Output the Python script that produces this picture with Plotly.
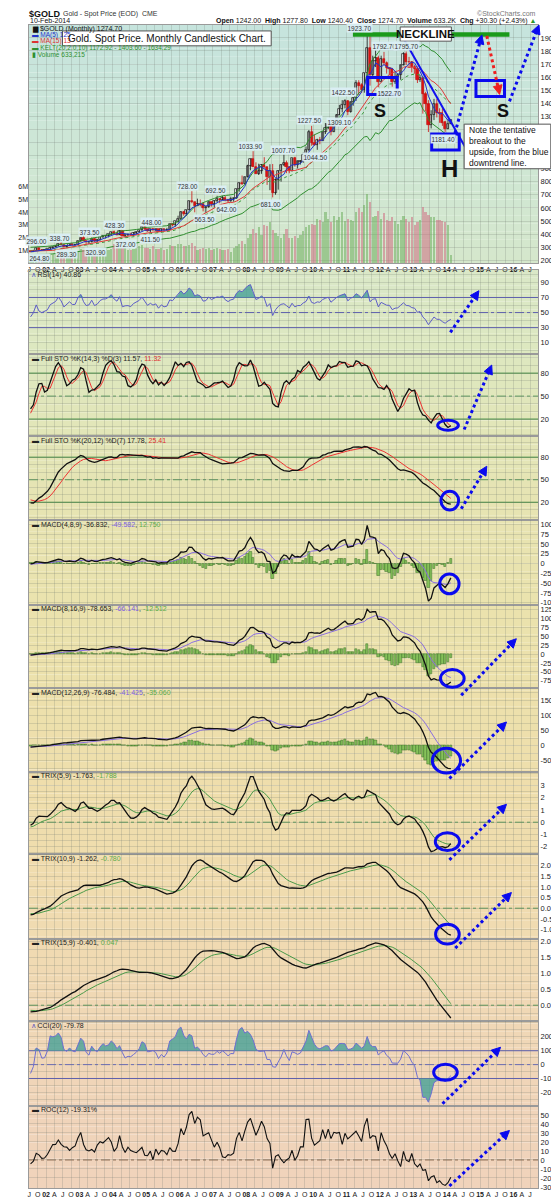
import numpy as np
import pandas as pd
import plotly.graph_objects as go

# ---------------- DATA ----------------
# warm-up months Jan-1999 .. Jun-2001 (only used to seed the indicators)
pre_open = [288, 287, 288, 280, 286, 268, 261, 255, 255, 299, 300, 292,
            288, 284, 293, 278, 275, 273, 289, 277, 277, 273, 264, 270,
            273, 266, 267, 258, 263, 267]
pre_high = [293, 291, 290, 291, 289, 270, 263, 259, 306, 338, 300, 292,
            292, 318, 296, 289, 278, 293, 291, 279, 278, 274, 272, 275,
            273, 270, 268, 264, 293, 275]
pre_low = [283, 282, 278, 278, 267, 257, 252, 251, 252, 293, 287, 276,
           281, 282, 277, 274, 270, 271, 275, 270, 268, 263, 263, 268,
           262, 255, 255, 255, 263, 265]
pre_close = [287, 288, 280, 286, 268, 261, 255, 255, 299, 300, 292, 288,
             284, 293, 278, 275, 273, 289, 277, 277, 273, 264, 270, 273,
             266, 267, 258, 263, 267, 271]

# displayed months Jul-2001 .. Feb-2014
open_ = [271, 265, 273, 293, 279, 275,
         279, 282, 297, 302, 308, 326, 318, 304, 312, 324, 317, 318,
         347, 368, 348, 336, 339, 364, 346, 354, 375, 385, 386, 397,
         416, 403, 396, 427, 388, 394, 395, 391, 409, 416, 428, 453,
         438, 422, 435, 428, 435, 418, 437, 429, 433, 473, 470, 496,
         517, 569, 556, 582, 654, 643, 614, 633, 626, 599, 604, 646,
         632, 650, 665, 663, 677, 659, 650, 666, 673, 743, 789, 783,
         834, 923, 972, 916, 863, 885, 930, 912, 833, 880, 718, 814,
         882, 928, 942, 916, 883, 980, 927, 955, 955, 1008, 1040, 1182,
         1096, 1081, 1118, 1113, 1180, 1213, 1244, 1181, 1248, 1308, 1357, 1386,
         1420, 1333, 1411, 1439, 1556, 1536, 1500, 1628, 1826, 1620, 1722, 1746,
         1563, 1737, 1710, 1668, 1664, 1560, 1604, 1615, 1691, 1773, 1719, 1712,
         1675, 1663, 1578, 1595, 1472, 1393, 1234, 1312, 1396, 1327, 1323, 1253,
         1202, 1242]
high = [272, 280, 296, 294, 285, 281,
        288, 307, 304, 311, 329, 338.7, 324, 316, 326, 326, 325, 350,
        372, 389, 352, 341, 373.5, 371, 363, 377, 391, 392, 400, 417,
        428.3, 419, 430, 428, 396, 405, 410, 416, 420, 430, 456, 457,
        438, 440, 448, 438, 436, 442, 438, 448, 477, 479, 496, 541,
        574, 577, 586, 655, 728, 645, 671, 665, 642, 612, 649, 650,
        660, 692.5, 674, 693, 692, 670, 686, 677, 745, 795, 848, 838,
        930, 976, 1033.9, 949, 938, 936, 988, 914, 934, 936, 826, 889,
        935, 1007.7, 962, 917, 980, 991, 960, 965, 1024, 1070, 1196, 1227.5,
        1162, 1129, 1143, 1181, 1249, 1265, 1245, 1250, 1317, 1388, 1424, 1431,
        1424, 1412, 1448, 1577, 1577, 1553, 1632, 1917, 1923.7, 1764, 1804, 1764,
        1764, 1792.7, 1720, 1676, 1668, 1640, 1630, 1694, 1790, 1795.7, 1755, 1723,
        1694, 1682, 1617, 1605, 1488, 1424, 1347, 1434, 1434, 1362, 1362, 1267,
        1280, 1277.8]
low = [264.8, 264, 271, 277, 271, 271,
       277, 281, 288, 299, 306, 315, 298, 299, 310, 310, 313, 317,
       342, 346, 325, 320.9, 337, 341, 340, 352, 368, 366, 375, 396,
       399, 390, 393, 385, 372, 385, 387, 385, 398, 410, 420, 430,
       418, 411.5, 424, 421, 414, 414, 418, 428, 432, 459, 457, 488,
       516, 540, 539, 582, 636, 567, 614, 612, 574, 563.5, 601, 610,
       602, 642, 637, 660, 651, 642, 647, 648, 670, 724, 775, 781,
       833, 888, 915, 861, 852, 861, 904, 776, 736, 681, 701, 740,
       801, 920, 866, 865, 879, 915, 902, 932, 946, 998, 1034, 1075,
       1075, 1044.5, 1087, 1113, 1165, 1203, 1155, 1180, 1242, 1308, 1330, 1361,
       1309.1, 1329, 1381, 1418, 1462, 1478, 1481, 1603, 1535, 1602, 1677, 1522.7,
       1562, 1690, 1627, 1613, 1527, 1548, 1564, 1580, 1689, 1693, 1673, 1636,
       1626, 1555, 1563, 1321, 1338, 1180.5, 1208, 1271, 1292, 1251, 1227, 1181.4,
       1202, 1240.4]
close = [265, 273, 293, 279, 275, 279,
         282, 297, 302, 308, 326, 318, 304, 312, 324, 317, 318, 347,
         368, 348, 336, 339, 364, 346, 354, 375, 385, 386, 397, 416,
         403, 396, 427, 388, 394, 395, 391, 409, 416, 428, 453, 438,
         422, 435, 428, 435, 418, 437, 429, 433, 473, 470, 496, 517,
         569, 556, 582, 654, 643, 614, 633, 626, 599, 604, 646, 632,
         650, 665, 663, 677, 659, 650, 666, 673, 743, 789, 783, 834,
         923, 972, 916, 863, 885, 930, 912, 833, 880, 718, 814, 882,
         928, 942, 916, 883, 980, 927, 955, 955, 1008, 1040, 1182, 1096,
         1081, 1118, 1113, 1180, 1213, 1244, 1181, 1248, 1308, 1357, 1386, 1420,
         1333, 1411, 1439, 1556, 1536, 1500, 1628, 1826, 1620, 1722, 1746, 1563,
         1737, 1710, 1668, 1664, 1560, 1604, 1615, 1691, 1773, 1719, 1712, 1675,
         1663, 1578, 1595, 1472, 1393, 1234, 1312, 1396, 1327, 1323, 1253, 1202,
         1244, 1274.7]
volume_m = [0.35, 0.4, 0.5, 0.45, 0.4, 0.4,
            0.6, 0.8, 0.7, 0.75, 0.9, 0.85, 0.8, 0.7, 0.75, 0.7, 0.7, 0.9,
            1.1, 1.0, 0.9, 0.85, 1.0, 0.95, 0.9, 1.0, 1.2, 1.1, 1.0, 1.1,
            1.5, 1.3, 1.4, 1.35, 1.2, 1.0, 1.0, 1.1, 1.2, 1.3, 1.4, 1.2,
            1.2, 1.1, 1.3, 1.1, 1.1, 1.2, 1.0, 1.1, 1.4, 1.3, 1.3, 1.5,
            1.5, 1.3, 1.3, 1.4, 1.6, 1.3, 1.0, 1.1, 1.2, 1.1, 1.2, 1.0,
            1.1, 1.2, 1.1, 1.0, 1.0, 1.1, 0.9, 1.2, 1.3, 1.5, 1.7, 1.5,
            2.0, 2.3, 2.7, 2.4, 2.8, 2.2, 3.0, 2.9, 3.2, 2.6, 2.4, 2.1,
            2.0, 2.3, 2.7, 2.0, 2.0, 2.1, 2.0, 2.2, 2.5, 2.8, 3.0, 3.1,
            3.0, 3.5, 3.4, 3.2, 4.0, 3.5, 3.2, 3.7, 3.4, 3.6, 4.0, 3.3,
            3.5, 3.4, 3.3, 4.0, 4.3, 4.0, 4.6, 5.4, 4.8, 3.6, 3.7, 4.1,
            3.5, 3.9, 3.4, 3.3, 3.6, 3.3, 3.1, 3.4, 3.7, 3.5, 3.2, 3.6,
            3.0, 3.2, 3.4, 4.4, 4.0, 3.8, 3.6, 3.6, 3.4, 3.4, 3.3, 3.2,
            3.0, 0.63]

# price extreme labels shown on the chart (text, x px, y px)
price_labels = [("296.00", 27, 235), ("264.80", 30, 252.5), ("338.70", 50, 231.5),
                ("289.30", 57, 248), ("373.50", 80, 226), ("320.90", 87, 245.5),
                ("428.30", 106, 218.5), ("372.00", 117, 238), ("448.00", 143, 216),
                ("411.50", 142, 233), ("728.00", 180, 179), ("692.50", 208, 183),
                ("642.00", 220, 203), ("563.50", 197, 213), ("1033.90", 244, 139),
                ("681.00", 264, 198), ("1007.70", 277, 143), ("1227.50", 304, 113),
                ("1044.50", 310, 150), ("1309.10", 334, 115), ("1422.50", 338, 85),
                ("1923.70", 355, 20.5), ("1792.70", 380, 38.3), ("1795.70", 402, 38.3),
                ("1522.70", 385, 85.7), ("1181.40", 439, 132)]

# ---------------- INDICATORS (derived from the OHLC arrays) ----------------
O = np.array(pre_open + open_, float)
Hh = np.array(pre_high + high, float)
Ll = np.array(pre_low + low, float)
C = np.array(pre_close + close, float)
NP = len(pre_close)


def ema(x, n):
    a = 2.0 / (n + 1)
    out = np.empty(len(x))
    out[0] = x[0]
    for i in range(1, len(x)):
        out[i] = out[i - 1] + a * (x[i] - out[i - 1])
    return out


def wild(x, n):
    out = np.empty(len(x))
    out[0] = x[0]
    for i in range(1, len(x)):
        out[i] = out[i - 1] + (x[i] - out[i - 1]) / n
    return out


def sma(x, n):
    return pd.Series(x).rolling(n, min_periods=1).mean().to_numpy()


prevC = np.r_[C[0], C[:-1]]
ma5 = sma(C, 5)
ma15 = sma(C, 15)
tr = np.maximum(Hh - Ll, np.maximum(abs(Hh - prevC), abs(Ll - prevC)))
atr = wild(tr, 10)
kmid = ema(C, 20)
kup = kmid + 2 * atr
klo = kmid - 2 * atr

d = C - prevC
au = wild(np.clip(d, 0, None), 14)
ad = wild(np.clip(-d, 0, None), 14)
rsi = 100 - 100 / (1 + au / np.where(ad == 0, 1e-9, ad))


def full_sto(n, ks, ds):
    ll = pd.Series(Ll).rolling(n, min_periods=1).min().to_numpy()
    hh = pd.Series(Hh).rolling(n, min_periods=1).max().to_numpy()
    fk = 100 * (C - ll) / np.where(hh - ll == 0, 1, hh - ll)
    k = sma(fk, ks)
    return k, sma(k, ds)


sto1k, sto1d = full_sto(14, 3, 3)
sto2k, sto2d = full_sto(20, 12, 7)


def macd(a, b, s):
    m = ema(C, a) - ema(C, b)
    sg = ema(m, s)
    return m, sg, m - sg


m1, s1, h1 = macd(4, 8, 9)
m2, s2, h2 = macd(8, 16, 9)
m3, s3, h3 = macd(12, 26, 9)


def trix(n, s):
    e3 = ema(ema(ema(C, n), n), n)
    t = np.r_[0, 100 * (e3[1:] / e3[:-1] - 1)]
    return t, ema(t, s)


t1, ts1 = trix(5, 9)
t2, ts2 = trix(10, 9)
t3, ts3 = trix(15, 9)

tp = (Hh + Ll + C) / 3
tps = pd.Series(tp)
tsma = tps.rolling(20, min_periods=1).mean().to_numpy()
mdev = tps.rolling(20, min_periods=1).apply(lambda w: np.mean(np.abs(w - w.mean())), raw=True).to_numpy()
cci = (tp - tsma) / (0.015 * np.where(mdev == 0, 1, mdev))
roc = np.r_[np.zeros(12), 100 * (C[12:] / C[:-12] - 1)]

S = slice(NP, None)
dates = pd.date_range("2001-07-01", periods=len(close), freq="MS") + pd.Timedelta(days=14)
N = len(close)

# ---------------- GEOMETRY ----------------
W, Hpx = 559, 1200
ML, MR, MT, MB = 19, 23, 17, 10
PW, PH = W - ML - MR, Hpx - MT - MB


def px(x):
    return (x - ML) / PW


def py(y):
    return (Hpx - MB - y) / PH


FONT = "Liberation Sans"
GRID = "rgba(110,120,110,0.22)"
BORDER = "#9a9a9a"
XS, XE = "2001-06-28", "2016-09-26"

hidden_main = {1000, 1100, 1200}
panels = [
    (17, 257, [179.5, 1998.5], list(range(200, 2000, 100)),
     [v for v in range(200, 2000, 100) if v not in hidden_main]),
    (264, 349, [-5.2, 106.6], list(range(0, 101, 10)), [10, 30, 50, 70, 90]),
    (349, 432, [-2.7, 104.8], list(range(0, 101, 10)), [20, 50, 80]),
    (432, 516, [-3.3, 107.6], list(range(0, 101, 10)), [20, 50, 80]),
    (516, 602, [-106, 112], list(range(-100, 101, 25)), list(range(-100, 101, 25))),
    (602, 686, [-96.5, 138], list(range(-75, 126, 25)), list(range(-75, 126, 25))),
    (686, 770, [-86, 190.5], list(range(-75, 176, 25)), [-50, 0, 50, 100, 150]),
    (770, 853, [-2.6, 4.16], [v / 2 for v in range(-5, 9)], [-2, -1, 0, 1, 2, 3]),
    (853, 939, [-1.45, 2.55], [v / 2 for v in range(-2, 6)], [-1, -0.5, 0, 0.5, 1, 1.5, 2]),
    (939, 1022, [-0.51, 2.08], [v / 4 for v in range(-2, 9)], [0, 0.5, 1, 1.5, 2]),
    (1022, 1107, [-296, 311], list(range(-250, 301, 50)), [-200, -100, 0, 100, 200]),
    (1107, 1190, [-31.1, 60.2], list(range(-30, 61, 10)), list(range(-30, 51, 10))),
]
fmt1 = {9, 10}

qt = pd.date_range("2001-07-01", "2016-07-01", freq="QS-JAN")
qtext = []
for q in qt:
    if q.month == 1:
        qtext.append("<b>%02d</b>" % (q.year % 100))
    else:
        qtext.append({4: "A", 7: "J", 10: "O"}[q.month])

layout = dict(width=W, height=Hpx, margin=dict(l=ML, r=MR, t=MT, b=MB),
              paper_bgcolor="white", plot_bgcolor="rgba(0,0,0,0)",
              showlegend=False, hovermode=False, bargap=0,
              font=dict(family=FONT, size=8, color="#222"))

for i, (top, bot, rng, grid, lab) in enumerate(panels):
    k = i + 1
    xn = "xaxis" if k == 1 else "xaxis%d" % k
    yn = "yaxis" if k == 1 else "yaxis%d" % k
    xr = "x" if k == 1 else "x%d" % k
    yr = "y" if k == 1 else "y%d" % k
    layout[xn] = dict(domain=[0, 1], anchor=yr, type="date", range=[XS, XE],
                      tickmode="array", tickvals=[q.strftime("%Y-%m-%d") for q in qt],
                      ticktext=qtext, showticklabels=(k in (1, 12)), ticks="", tickangle=0,
                      showgrid=True, gridcolor=GRID, gridwidth=1, zeroline=False,
                      showline=True, mirror=True, linecolor=BORDER, linewidth=1,
                      tickfont=dict(size=7, color="#222", family=FONT),
                      rangeslider=dict(visible=False), fixedrange=True)
    if k in fmt1:
        tt = [("%.1f" % v) if v in lab else "" for v in grid]
    else:
        tt = [(("%g" % v) if v in lab else "") for v in grid]
    layout[yn] = dict(domain=[py(bot), py(top)], anchor=xr, side="right", range=rng,
                      tickmode="array", tickvals=grid, ticktext=tt, ticks="",
                      showgrid=True, gridcolor=GRID, gridwidth=1, zeroline=False,
                      showline=True, mirror=True, linecolor=BORDER, linewidth=1,
                      tickfont=dict(size=7.5, color="#222", family=FONT), fixedrange=True)

layout["yaxis13"] = dict(overlaying="y", anchor="x", side="left", range=[0, 18.75e6],
                         tickmode="array", tickvals=[1e6, 2e6, 3e6, 4e6, 5e6, 6e6],
                         ticktext=["1M", "2M", "3M", "4M", "5M", "6M"], ticks="",
                         showgrid=False, zeroline=False, showline=False,
                         tickfont=dict(size=7, color="#222", family=FONT), fixedrange=True)

fig = go.Figure()


def add(tr_, k):
    tr_.update(xaxis="x" if k == 1 else "x%d" % k, yaxis="y" if k == 1 else "y%d" % k)
    fig.add_trace(tr_)


MS_DAY = 86400000
# ---- main panel: candles ----
o = np.array(open_, float); h = np.array(high, float); l = np.array(low, float); c = np.array(close, float)
up = c >= o
for mask, col in ((up, "#111111"), (~up, "#cc1111")):
    wx, wy = [], []
    for dte, hi, lo in zip(dates[mask], h[mask], l[mask]):
        wx += [dte, dte, None]
        wy += [lo, hi, None]
    add(go.Scatter(x=wx, y=wy, mode="lines", line=dict(color=col, width=0.8)), 1)
add(go.Bar(x=dates[up], y=np.abs(c - o)[up] + 0.5, base=np.minimum(c, o)[up],
           width=24 * MS_DAY, marker=dict(color="#fbfbfb", line=dict(color="#111", width=0.7))), 1)
add(go.Bar(x=dates[~up], y=np.abs(c - o)[~up] + 0.5, base=np.minimum(c, o)[~up],
           width=24 * MS_DAY, marker=dict(color="#ee1515", line=dict(color="#b00000", width=0.6))), 1)
add(go.Scatter(x=dates, y=kup[S], mode="lines", line=dict(color="#2f8f2f", width=1)), 1)
add(go.Scatter(x=dates, y=klo[S], mode="lines", line=dict(color="#2f8f2f", width=1)), 1)
add(go.Scatter(x=dates, y=kmid[S], mode="lines", line=dict(color="#3a9a3a", width=1, dash="dot")), 1)
add(go.Scatter(x=dates, y=ma15[S], mode="lines", line=dict(color="#e03a3a", width=1)), 1)
add(go.Scatter(x=dates, y=ma5[S], mode="lines", line=dict(color="#2233cc", width=1)), 1)

# volume
vcol = ["rgba(110,175,95,0.55)" if (i == 0 or close[i] >= close[i - 1]) else "rgba(205,110,130,0.55)"
        for i in range(N)]
fig.add_trace(go.Bar(x=dates, y=np.array(volume_m) * 1e6, width=24 * MS_DAY,
                     marker=dict(color=vcol, line=dict(width=0)), xaxis="x", yaxis="y13"))

TEAL = "rgba(70,160,150,0.8)"
# ---- RSI ----
add(go.Scatter(x=dates, y=[70] * N, mode="lines", line=dict(width=0)), 2)
add(go.Scatter(x=dates, y=np.maximum(rsi[S], 70), mode="lines", line=dict(width=0),
               fill="tonexty", fillcolor=TEAL), 2)
add(go.Scatter(x=dates, y=rsi[S], mode="lines", line=dict(color="#5d5dc8", width=1)), 2)
# ---- STO ----
add(go.Scatter(x=dates, y=sto1d[S], mode="lines", line=dict(color="#ee3333", width=1)), 3)
add(go.Scatter(x=dates, y=sto1k[S], mode="lines", line=dict(color="#111", width=1.3)), 3)
add(go.Scatter(x=dates, y=sto2d[S], mode="lines", line=dict(color="#ee3333", width=1)), 4)
add(go.Scatter(x=dates, y=sto2k[S], mode="lines", line=dict(color="#111", width=1.3)), 4)
# ---- MACDs ----
for k, (m, sg, hh_) in zip((5, 6, 7), ((m1, s1, h1), (m2, s2, h2), (m3, s3, h3))):
    add(go.Bar(x=dates, y=hh_[S], width=26 * MS_DAY,
               marker=dict(color="#86c25a", line=dict(color="#3a6e28", width=0.5))), k)
    add(go.Scatter(x=dates, y=sg[S], mode="lines", line=dict(color="#8a6ee0", width=1)), k)
    add(go.Scatter(x=dates, y=m[S], mode="lines", line=dict(color="#111", width=1.3)), k)
# ---- TRIX ----
for k, (t, ts) in zip((8, 9, 10), ((t1, ts1), (t2, ts2), (t3, ts3))):
    add(go.Scatter(x=dates, y=ts[S], mode="lines", line=dict(color="#4a9a4a", width=1)), k)
    add(go.Scatter(x=dates, y=t[S], mode="lines", line=dict(color="#111", width=1.3)), k)
# ---- CCI ----
add(go.Scatter(x=dates, y=[100] * N, mode="lines", line=dict(width=0)), 11)
add(go.Scatter(x=dates, y=np.maximum(cci[S], 100), mode="lines", line=dict(width=0),
               fill="tonexty", fillcolor=TEAL), 11)
add(go.Scatter(x=dates, y=[-100] * N, mode="lines", line=dict(width=0)), 11)
add(go.Scatter(x=dates, y=np.minimum(cci[S], -100), mode="lines", line=dict(width=0),
               fill="tonexty", fillcolor=TEAL), 11)
add(go.Scatter(x=dates, y=cci[S], mode="lines", line=dict(color="#6f6fd0", width=1)), 11)
# ---- ROC ----
add(go.Scatter(x=dates, y=roc[S], mode="lines", line=dict(color="#111", width=1.1)), 12)

# ---------------- SHAPES ----------------
shapes = []
stops = [(17, (198, 228, 222)), (140, (206, 231, 214)), (257, (214, 232, 204)),
         (264, (218, 233, 200)), (349, (222, 232, 192)), (432, (227, 230, 184)),
         (516, (232, 228, 178)), (602, (235, 227, 174)), (686, (237, 225, 172)),
         (770, (239, 223, 172)), (853, (240, 221, 174)), (939, (240, 219, 178)),
         (1022, (240, 216, 182)), (1107, (240, 213, 186)), (1190, (240, 211, 188))]
sy = [s[0] for s in stops]


def col_at(y):
    return "rgb(%d,%d,%d)" % tuple(int(np.interp(y, sy, [s[1][j] for s in stops])) for j in range(3))


for a, b in ((17, 257), (264, 1190)):
    y = a
    while y < b:
        y2 = min(b, y + 8)
        shapes.append(dict(type="rect", xref="paper", yref="paper", x0=0, x1=1,
                           y0=py(y2), y1=py(y), fillcolor=col_at((y + y2) / 2),
                           line=dict(width=0), layer="below"))
        y = y2


def hline(k, v, color, dash="solid", width=1):
    shapes.append(dict(type="line", xref="paper", x0=0, x1=1, yref="y%d" % k, y0=v, y1=v,
                       line=dict(color=color, width=width, dash=dash), layer="below"))


for v in (70, 30):
    hline(2, v, "#5a5ac0")
hline(2, 50, "#5a5ac0", "dashdot")
for k in (3, 4):
    hline(k, 80, "#3e8a3e"); hline(k, 20, "#3e8a3e"); hline(k, 50, "#5a9a5a", "dashdot")
for k in (8, 9, 10):
    hline(k, 0, "#5a9a5a", "dashdot")
hline(11, 100, "#5a5ac0"); hline(11, -100, "#5a5ac0"); hline(11, 0, "#6a6ac8", "dashdot")
hline(12, 0, "#8a6a50", "dashdot")

BLUE = "#0a0aee"


def arrow(x0, y0, x1, y1, color=BLUE):
    dx, dy = x1 - x0, y1 - y0
    L = (dx * dx + dy * dy) ** 0.5
    ux, uy = dx / L, dy / L
    hl, hw = 9, 4.5
    bx, by = x1 - ux * hl, y1 - uy * hl
    shapes.append(dict(type="line", xref="paper", yref="paper", x0=px(x0), y0=py(y0),
                       x1=px(bx + ux * 1.5), y1=py(by + uy * 1.5),
                       line=dict(color=color, width=3, dash="dot"), layer="above"))
    pts = [(x1, y1), (bx - uy * hw, by + ux * hw), (bx + uy * hw, by - ux * hw)]
    path = "M %f,%f L %f,%f L %f,%f Z" % tuple(v for p in pts for v in (px(p[0]), py(p[1])))
    shapes.append(dict(type="path", xref="paper", yref="paper", path=path,
                       fillcolor=color, line=dict(color=color, width=1), layer="above"))


def ellipse(cx, cy, w, hgt):
    shapes.append(dict(type="circle", xref="paper", yref="paper", x0=px(cx - w / 2), x1=px(cx + w / 2),
                       y0=py(cy + hgt / 2), y1=py(cy - hgt / 2), line=dict(color=BLUE, width=3),
                       layer="above"))


def box(x0, y0, x1, y1, color=BLUE, width=3, fill=None):
    shapes.append(dict(type="rect", xref="paper", yref="paper", x0=px(x0), x1=px(x1),
                       y0=py(y1), y1=py(y0), line=dict(color=color, width=width),
                       fillcolor=fill if fill else "rgba(0,0,0,0)", layer="above"))


# main-panel drawings
shapes.append(dict(type="line", xref="paper", yref="paper", x0=px(348), x1=px(507),
                   y0=py(26.5), y1=py(26.5), line=dict(color="#1a9a1a", width=4.5), layer="above"))
shapes.append(dict(type="line", xref="paper", yref="paper", x0=px(398), x1=px(462),
                   y0=py(28), y1=py(140), line=dict(color="#1111ee", width=2), layer="above"))
box(363, 70, 393, 87)
box(473, 73, 502, 89)
box(428, 127, 456, 143)
arrow(450, 132, 479, 27)
arrow(484, 28, 497, 87, "#ee2020")
arrow(507, 94, 537, 17)
# white text boxes
box(53, 23, 265, 38, "#555", 1, "white")
box(396, 19, 448, 33.3, "#555", 1, "white")
box(461, 117, 549, 162, "#555", 1, "white")

# indicator drawings
arrow(447, 327, 476, 285)
ellipse(444.6, 420.7, 21, 10); arrow(461, 425, 489, 360)
ellipse(446.4, 496.7, 18, 19); arrow(458, 505, 484, 462)
ellipse(446, 580.7, 19.6, 20)
ellipse(449, 676, 24, 18); arrow(458, 693, 514, 636)
ellipse(443, 759, 28.6, 25); arrow(446, 777, 504, 720)
ellipse(444, 840.7, 24.6, 18); arrow(446, 859, 504, 803)
ellipse(444, 934, 24, 20); arrow(452, 948, 509, 892)
ellipse(442, 1073.3, 24, 16); arrow(439, 1105, 498, 1048)
arrow(446, 1188, 507, 1132)

layout["shapes"] = shapes

# ---------------- ANNOTATIONS ----------------
anns = []


def ann(text, x, y, size=7.5, color="#222", xanchor="left", bold=False, **kw):
    if bold:
        text = "<b>%s</b>" % text
    d = dict(text=text, x=px(x), y=py(y), xref="paper", yref="paper", showarrow=False,
             xanchor=xanchor, yanchor="middle", font=dict(size=size, color=color, family=FONT))
    d.update(kw)
    anns.append(d)


ann("<b>$GOLD</b>", 17, 5.5, size=9, color="#111")
ann("Gold - Spot Price (EOD)  CME", 51, 6, size=7, color="#333")
ann("10-Feb-2014", 18, 12.8, size=7, color="#111")
ann("<b>Open</b> 1242.00  <b>High</b> 1277.80  <b>Low</b> 1240.40  <b>Close</b> 1274.70  "
    "<b>Volume</b> 633.2K  <b>Chg</b> +30.30 (+2.43%) <span style='color:#2a9a2a'>▲</span>",
    536, 13, size=7, color="#111", xanchor="right")
ann("©StockCharts.com", 536, 5, size=7, color="#777", xanchor="right")

ann("▆ $GOLD (Monthly) 1274.70", 20, 21.3, size=7, color="#111")
ann("▬ MA(5) 125", 20, 27, size=6.5, color="#2233cc")
ann("▬ MA(15) 13", 20, 33.3, size=6.5, color="#dd3333")
ann("▬ KELT(20,2.0,10) 1172.92 - 1403.60 - 1634.29", 20, 40.5, size=6.5, color="#2f8f2f")
ann("▮ Volume 633,215", 20, 46.5, size=6.5, color="#2f8f2f")

for t, x, y in price_labels:
    ann(t, x, y, size=6.5, color="#333", xanchor="center",
        bgcolor="rgba(218,238,244,0.95)", borderpad=0.5)

ann("Gold. Spot Price. Monthly Candlestick Chart.", 159, 30.7, size=10, color="#111", xanchor="center")
ann("NECKLINE", 422, 26.4, size=11.5, color="#111", xanchor="center", bold=True)
ann("Note the tentative<br>breakout to the<br>upside, from the blue<br>downtrend line.",
    464, 139.5, size=8.5, color="#111", bold=False, align="left")
ann("<b>S</b>", 376, 104, size=18, color="#111", xanchor="center")
ann("<b>S</b>", 500, 104, size=18, color="#111", xanchor="center")
ann("<b>H</b>", 446, 162, size=24, color="#111", xanchor="center")

R = "<span style='color:#e03030'>%s</span>"
P = "<span style='color:#7a5ee0'>%s</span>"
G = "<span style='color:#5aaa4a'>%s</span>"
ann("<span style='color:#4a4ac0'>ʌ</span> RSI(14) 40.86", 20, 269, size=7)
ann("▬ Full STO %K(14,3) %D(3) 11.57, " + R % "11.32", 20, 353.5, size=7)
ann("▬ Full STO %K(20,12) %D(7) 17.78, " + R % "25.41", 20, 437, size=7)
ann("▬ MACD(4,8,9) -36.832, " + P % "-49.582" + ", " + G % "12.750", 20, 521, size=7)
ann("▬ MACD(8,16,9) -78.653, " + P % "-66.141" + ", " + G % "-12.512", 20, 606, size=7)
ann("▬ MACD(12,26,9) -76.484, " + P % "-41.425" + ", " + G % "-35.060", 20, 690.5, size=7)
ann("▬ TRIX(5,9) -1.763, " + G % "-1.788", 20, 774.5, size=7)
ann("▬ TRIX(10,9) -1.262, " + G % "-0.780", 20, 858.5, size=7)
ann("▬ TRIX(15,9) -0.401, " + G % "0.047", 20, 943, size=7)
ann("<span style='color:#4a4ac0'>ʌ</span> CCI(20) -79.78", 20, 1027, size=7)
ann("▬ ROC(12) -19.31%", 20, 1111, size=7)

layout["annotations"] = anns
fig.update_layout(**layout)
fig.write_html("out.html")
